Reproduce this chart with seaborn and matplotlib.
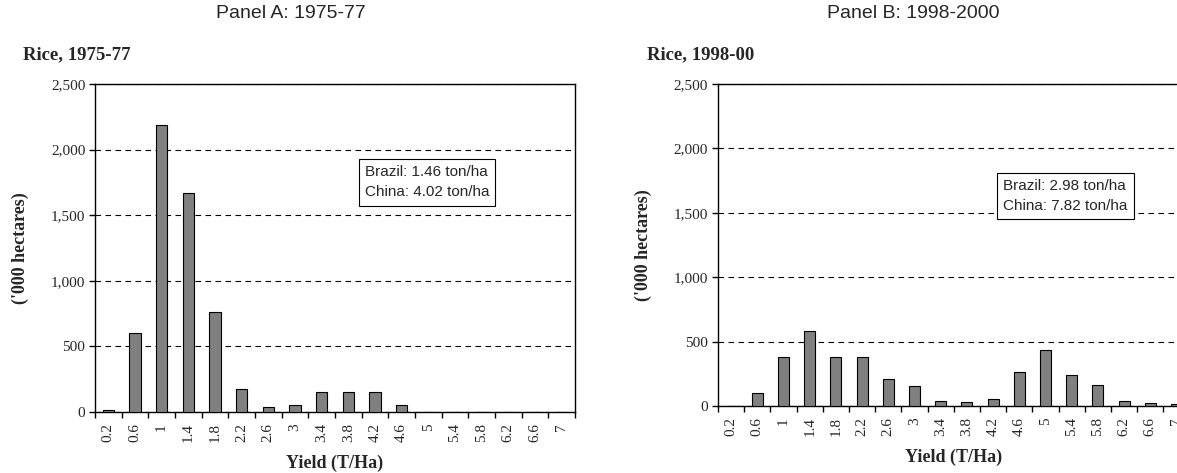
import numpy as np
import pandas as pd
import seaborn as sns
import matplotlib.pyplot as plt
from matplotlib.ticker import FuncFormatter

# yield classes (T/Ha) and rice area ('000 hectares)
yields = ['0.2', '0.6', '1', '1.4', '1.8', '2.2', '2.6', '3', '3.4',
          '3.8', '4.2', '4.6', '5', '5.4', '5.8', '6.2', '6.6', '7']
area_1975 = [15, 605, 2190, 1670, 760, 178, 41, 51, 152,
             152, 152, 53, 0, 0, 0, 0, 0, 0]
area_1998 = [0, 104, 383, 585, 383, 383, 210, 155, 39,
             28, 57, 264, 437, 238, 166, 39, 20, 18]
yticks = [0, 500, 1000, 1500, 2000, 2500]

sns.set_style('white')
serif = ['Liberation Serif', 'DejaVu Serif']
sans = ['Liberation Sans', 'DejaVu Sans']
plt.rcParams['font.family'] = serif

fig = plt.figure(figsize=(11.77, 4.73), dpi=100)
ax_a = fig.add_axes([0.0807, 0.129, 0.4078, 0.6934])
ax_b = fig.add_axes([0.610, 0.1416, 0.4007, 0.6808])


def draw_panel(ax, values, subtitle, note, note_xy):
    df = pd.DataFrame({'yield': yields, 'area': values})
    sns.barplot(data=df, x='yield', y='area', color='#808080', saturation=1,
                edgecolor='black', linewidth=0.8, width=0.42, ax=ax, zorder=3)
    ax.set_xlim(-0.5, len(yields) - 0.5)
    ax.set_ylim(0, 2500)
    ax.set_yticks(yticks)
    ax.yaxis.set_major_formatter(FuncFormatter(lambda v, p: '{:,.0f}'.format(v)))
    ax.set_xticks(np.arange(-0.5, len(yields), 1), minor=True)
    ax.tick_params(axis='x', which='major', length=0, pad=8, labelsize=11,
                   labelrotation=90)
    ax.tick_params(axis='x', which='minor', length=4, width=1, direction='out',
                   bottom=True, color='black')
    ax.tick_params(axis='y', which='major', length=4, width=1, direction='out',
                   left=True, color='black', labelsize=11, pad=3)
    ax.yaxis.grid(True, color='black', linestyle=(0, (5, 4)), linewidth=0.8)
    ax.set_axisbelow(True)
    for s in ax.spines.values():
        s.set_color('black')
        s.set_linewidth(1.0)
    ax.set_xlabel('Yield (T/Ha)', fontsize=13, fontweight='bold', labelpad=9)
    ax.set_ylabel("('000 hectares)", fontsize=13, fontweight='bold', labelpad=16)
    ax.text(-0.15, 1.09, subtitle, transform=ax.transAxes, fontsize=13.5,
            fontweight='bold', ha='left', va='center')
    ax.text(note_xy[0], note_xy[1], note, fontsize=11, family=sans,
            ha='left', va='top', linespacing=1.55, zorder=5,
            bbox=dict(boxstyle='square,pad=0.4', facecolor='white',
                      edgecolor='black', linewidth=0.8))


draw_panel(ax_a, area_1975, 'Rice, 1975-77',
           'Brazil: 1.46 ton/ha\nChina: 4.02 ton/ha', (9.62, 1880))
draw_panel(ax_b, area_1998, 'Rice, 1998-00',
           'Brazil: 2.98 ton/ha\nChina: 7.82 ton/ha', (10.38, 1762))

fig.text(291 / 1177, 1 - 14 / 473, 'Panel A: 1975-77', fontsize=14,
         family=sans, ha='center', va='center')
fig.text(913 / 1177, 1 - 14 / 473, 'Panel B: 1998-2000', fontsize=14,
         family=sans, ha='center', va='center')

fig.savefig('out.png', dpi=100)
